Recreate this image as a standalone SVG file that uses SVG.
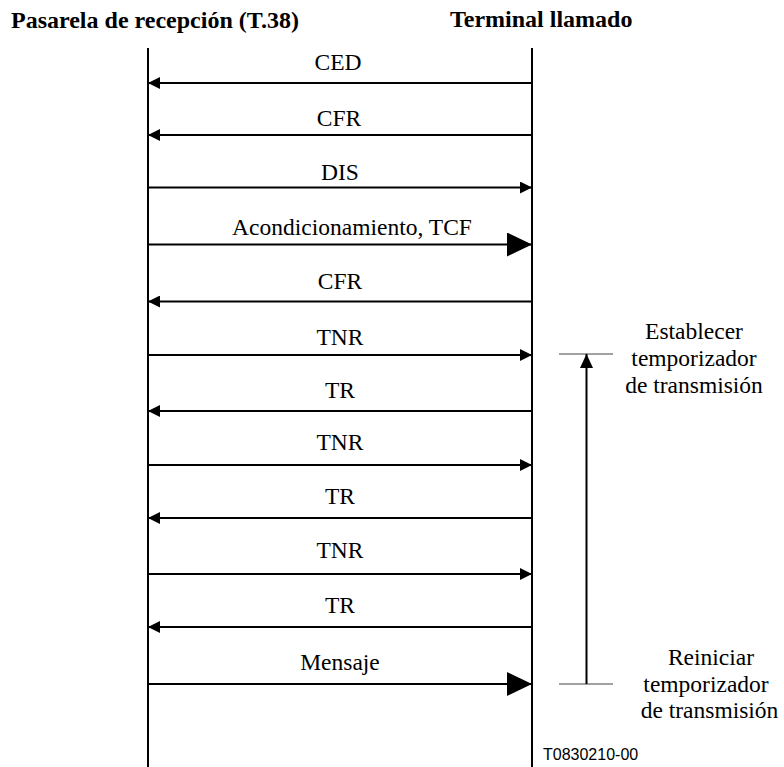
<svg xmlns="http://www.w3.org/2000/svg" width="784" height="767" viewBox="0 0 784 767">
  <style>
    .hdr { font-weight: bold; font-size: 24px; fill: #000; }
    .lbl { font-size: 23.5px; fill: #000; text-anchor: middle; }
    .life { stroke: #000; stroke-width: 2; fill: none; }
    .msg { stroke: #000; stroke-width: 2; fill: none; }
    .sm { marker-end: url(#arr); }
    .big { marker-end: url(#bigarr); }
    .tick { stroke: #444; stroke-width: 1; }
    .ref { font-size: 16px; fill: #000; }
  </style>
  <defs>
    <marker id="arr" markerUnits="userSpaceOnUse" markerWidth="12" markerHeight="12" refX="12" refY="6" orient="auto">
      <path d="M0,0 L12,6 L0,12 z" fill="#000"/>
    </marker>
    <marker id="bigarr" markerUnits="userSpaceOnUse" markerWidth="25" markerHeight="24" refX="25" refY="12" orient="auto">
      <path d="M0,0 L25,12 L0,24 z" fill="#000"/>
    </marker>
    <marker id="tarr" markerUnits="userSpaceOnUse" markerWidth="14" markerHeight="13" refX="14" refY="6.5" orient="auto">
      <path d="M0,0 L14,6.5 L0,13 z" fill="#000"/>
    </marker>
  </defs>
  <rect width="784" height="767" fill="#fff"/>

  <g font-family="Liberation Serif, serif">
    <g id="gateway">
      <text class="hdr" x="11" y="28">Pasarela de recepción (T.38)</text>
      <line class="life" x1="148" y1="48" x2="148" y2="767"/>
    </g>
    <g id="terminal">
      <text class="hdr" x="450" y="27">Terminal llamado</text>
      <line class="life" x1="532" y1="48" x2="532" y2="767"/>
    </g>

    <g id="connectors">
      <line class="msg sm" x1="532" y1="83" x2="148" y2="83"/>
      <text class="lbl" x="338" y="70">CED</text>
      <line class="msg sm" x1="532" y1="135" x2="148" y2="135"/>
      <text class="lbl" x="339" y="126">CFR</text>
      <line class="msg sm" x1="148" y1="187.5" x2="532" y2="187.5"/>
      <text class="lbl" x="340" y="180">DIS</text>
      <line class="msg big" x1="148" y1="244.5" x2="532" y2="244.5"/>
      <text class="lbl" x="352" y="235">Acondicionamiento, TCF</text>
      <line class="msg sm" x1="532" y1="301.5" x2="148" y2="301.5"/>
      <text class="lbl" x="340" y="289">CFR</text>
      <line class="msg sm" x1="148" y1="355" x2="532" y2="355"/>
      <text class="lbl" x="340" y="345">TNR</text>
      <line class="msg sm" x1="532" y1="411" x2="148" y2="411"/>
      <text class="lbl" x="340" y="398">TR</text>
      <line class="msg sm" x1="148" y1="465" x2="532" y2="465"/>
      <text class="lbl" x="340" y="450">TNR</text>
      <line class="msg sm" x1="532" y1="518" x2="148" y2="518"/>
      <text class="lbl" x="340" y="504">TR</text>
      <line class="msg sm" x1="148" y1="574" x2="532" y2="574"/>
      <text class="lbl" x="340" y="558">TNR</text>
      <line class="msg sm" x1="532" y1="627" x2="148" y2="627"/>
      <text class="lbl" x="340" y="613">TR</text>
      <line class="msg big" x1="148" y1="684" x2="532" y2="684"/>
      <text class="lbl" x="340" y="670">Mensaje</text>
    </g>

    <g id="timer">
      <line class="tick" x1="559" y1="354" x2="613" y2="354"/>
      <line class="tick" x1="559" y1="684" x2="613" y2="684"/>
      <line class="msg" x1="586.5" y1="684" x2="586.5" y2="354" marker-end="url(#tarr)"/>
    </g>
    <g id="timer-start">
      <text class="lbl" x="694" y="339">Establecer</text>
      <text class="lbl" x="694" y="366">temporizador</text>
      <text class="lbl" x="694" y="393">de transmisión</text>
    </g>
    <g id="timer-restart">
      <text class="lbl" x="711" y="665">Reiniciar</text>
      <text class="lbl" x="706" y="691.5">temporizador</text>
      <text class="lbl" x="709.5" y="718">de transmisión</text>
    </g>
  </g>
  <text class="ref" font-family="Liberation Sans, Arial, sans-serif" x="543" y="760">T0830210-00</text>
</svg>
